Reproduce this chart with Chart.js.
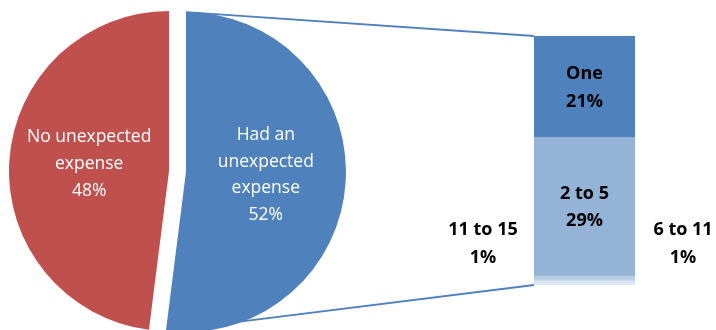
<!DOCTYPE html>
<html lang="en">
<head>
<meta charset="UTF-8" />
<title>Unexpected expenses</title>
<style>
  body { margin: 0; background: #fff; }
  #wrap { position: relative; width: 716px; height: 330px; }
  #wrap canvas { position: absolute; left: 0; top: 0; }
</style>
</head>
<body>
<div id="wrap">
  <canvas id="pie" width="716" height="330"></canvas>
  <canvas id="bar" width="716" height="330"></canvas>
</div>
<script src="https://cdn.jsdelivr.net/npm/chart.js@4.4.0/dist/chart.umd.min.js"></script>
<script>
// pie: share of people who had an unexpected expense
const pieLabels = [["Had an", "unexpected", "expense"], ["No unexpected", "expense"]];
const pieValues = [52, 48];
const pieColors = ["#4F81BD", "#C0504D"];

// bar: how many unexpected expenses (split of the 52%)
const barLabels = ["One", "2 to 5", "6 to 11", "11 to 15"];
const barValues = [21, 29, 1, 1];
const barColors = ["#4F81BD", "#95B3D7", "#B9CDE5", "#DCE6F2"];

const EXPLODE = 17; // px the first slice is pulled out
const PIE_FONT = "17.5px 'Open Sans', sans-serif";
const BAR_FONT = "bold 18px 'Open Sans', sans-serif";

function drawLines(ctx, lines, x, y, lh) {
    const top = y - (lines.length - 1) * lh / 2;
    lines.forEach((t, i) => ctx.fillText(t, x, top + i * lh));
}

// pull the first slice out along its middle angle, keeping its radius
const explodePlugin = {
    id: "explode",
    afterUpdate(chart) {
        const arc = chart.getDatasetMeta(0).data[0];
        const mid = (arc.startAngle + arc.endAngle) / 2;
        arc.x += Math.cos(mid) * EXPLODE;
        arc.y += Math.sin(mid) * EXPLODE;
    }
};

const pieLabelPlugin = {
    id: "pieLabels",
    afterDatasetsDraw(chart) {
        const ctx = chart.ctx;
        const meta = chart.getDatasetMeta(0);
        ctx.save();
        ctx.font = PIE_FONT;
        ctx.fillStyle = "#fff";
        ctx.textAlign = "center";
        ctx.textBaseline = "middle";
        meta.data.forEach((arc, i) => {
            const mid = (arc.startAngle + arc.endAngle) / 2;
            const r = arc.outerRadius * 0.5;
            const x = arc.x + Math.cos(mid) * r;
            const y = arc.y + Math.sin(mid) * r;
            drawLines(ctx, pieLabels[i].concat([pieValues[i] + "%"]), x, y - 2, 26.7);
        });
        ctx.restore();
    }
};

const pieChart = new Chart(document.getElementById("pie"), {
    type: "pie",
    data: {
        labels: pieLabels.map(l => l.join(" ")),
        datasets: [{
            data: pieValues,
            backgroundColor: pieColors,
            borderWidth: 0,
            radius: 160
        }]
    },
    options: {
        responsive: false,
        animation: false,
        radius: 160,
        layout: { padding: { left: 0, top: 12, right: 378, bottom: 0 } },
        plugins: { legend: { display: false }, tooltip: { enabled: false } }
    },
    plugins: [explodePlugin, pieLabelPlugin]
});

const barExtras = {
    id: "barExtras",
    afterDatasetsDraw(chart) {
        const ctx = chart.ctx;
        const bars = barValues.map((v, i) => chart.getDatasetMeta(i).data[0]);
        const top = bars[0], bottom = bars[bars.length - 1];
        const left = top.x - top.width / 2, right = top.x + top.width / 2;
        const barTop = Math.min(top.y, top.base);
        const barBottom = Math.max(bottom.y, bottom.base);

        // connector lines from the exploded pie slice to the bar
        const arc = pieChart.getDatasetMeta(0).data[0];
        const R = arc.outerRadius;
        ctx.save();
        ctx.strokeStyle = "#4F81BD";
        ctx.lineWidth = 1.8;
        ctx.beginPath();
        ctx.moveTo(arc.x + Math.cos(arc.startAngle) * R, arc.y + Math.sin(arc.startAngle) * R);
        ctx.lineTo(left, barTop);
        ctx.moveTo(arc.x + Math.cos(arc.endAngle) * R, arc.y + Math.sin(arc.endAngle) * R);
        ctx.lineTo(left, barBottom);
        ctx.stroke();

        // labels
        ctx.font = BAR_FONT;
        ctx.fillStyle = "#000";
        ctx.textAlign = "center";
        ctx.textBaseline = "middle";
        const lh = 27.5;
        [0, 1].forEach(i => {
            const b = bars[i];
            drawLines(ctx, [barLabels[i], barValues[i] + "%"], b.x, (b.y + b.base) / 2 + 1.5, lh);
        });
        const ly = barBottom - 41;
        drawLines(ctx, [barLabels[2], barValues[2] + "%"], right + 48, ly, lh);
        drawLines(ctx, [barLabels[3], barValues[3] + "%"], left - 51, ly, lh);
        ctx.restore();
    }
};

new Chart(document.getElementById("bar"), {
    type: "bar",
    data: {
        labels: ["Had an unexpected expense"],
        datasets: barLabels.map((l, i) => ({
            label: l,
            data: [barValues[i]],
            backgroundColor: barColors[i],
            borderWidth: 0,
            barPercentage: 1,
            categoryPercentage: 1
        }))
    },
    options: {
        responsive: false,
        animation: false,
        layout: { padding: { left: 534, top: 36, right: 81, bottom: 45 } },
        scales: {
            x: { stacked: true, display: false },
            y: { stacked: true, display: false, reverse: true, min: 0, max: 52 }
        },
        plugins: { legend: { display: false }, tooltip: { enabled: false } }
    },
    plugins: [barExtras]
});
</script>
</body>
</html>
